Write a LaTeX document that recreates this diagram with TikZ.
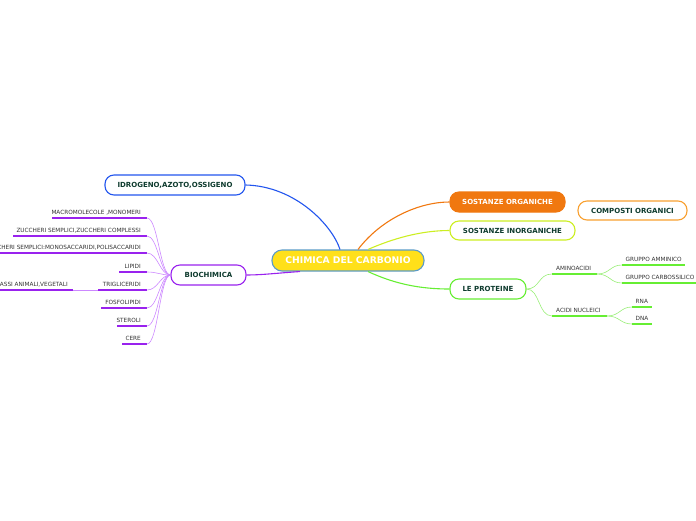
\documentclass[tikz,border=0pt]{standalone}
\usepackage{fontspec}
\setmainfont{DejaVu Sans}
\definecolor{tealdark}{HTML}{0E3B2E}
\definecolor{leafgray}{HTML}{333333}
\definecolor{cblue}{HTML}{2255EE}
\definecolor{corange}{HTML}{F07810}
\definecolor{corangel}{HTML}{F8A030}
\definecolor{cyg}{HTML}{CCEE22}
\definecolor{cgreen}{HTML}{66EE33}
\definecolor{cgreenl}{HTML}{99EE77}
\definecolor{cpurple}{HTML}{9922EE}
\definecolor{cpurplel}{HTML}{CC88FF}
\definecolor{cyellow}{HTML}{FFE01A}
\definecolor{cborder}{HTML}{5B9BC8}
\begin{document}
\begin{tikzpicture}[x=1pt,y=-1pt,
  topic/.style={rounded corners=9pt, draw, line width=1.1pt, minimum height=20pt, inner sep=0pt,
    font=\fontsize{7}{8}\selectfont\bfseries, text=tealdark, fill=white},
  leafR/.style={font=\fontsize{5.75}{6}\selectfont, text=leafgray, inner sep=0pt, anchor=base east},
  leafL/.style={font=\fontsize{5.75}{6}\selectfont, text=leafgray, inner sep=0pt, anchor=base west},
  uline/.style={line width=1.8pt},
  conn/.style={line width=1.1pt},
  thin/.style={line width=0.6pt}]
\useasboundingbox (0,0) rectangle (696,520);
\clip (0,0) rectangle (696,520);

% main topics
\node[topic, draw=cborder, fill=cyellow, text=white, minimum width=152pt, minimum height=21pt,
  font=\fontsize{9.2}{10}\selectfont\bfseries, rounded corners=10pt] (c) at (348,260.5) {CHIMICA DEL CARBONIO};
\node[topic, draw=cblue, minimum width=140pt] (idro) at (175,185) {IDROGENO,AZOTO,OSSIGENO};
\node[topic, draw=corange, fill=corange, text=white, minimum width=115pt] (sorg) at (507.5,202) {SOSTANZE ORGANICHE};
\node[topic, draw=corangel, minimum width=109pt, minimum height=19pt] (comp) at (632.5,210.5) {COMPOSTI ORGANICI};
\node[topic, draw=cyg, minimum width=125pt, minimum height=19pt] (sinorg) at (512.5,230.5) {SOSTANZE INORGANICHE};
\node[topic, draw=cgreen, minimum width=76pt] (prot) at (488,289) {LE PROTEINE};
\node[topic, draw=cpurple, minimum width=75pt] (bio) at (208.5,275) {BIOCHIMICA};

% main connectors
\draw[conn, cblue] ([xshift=-8pt]c.north) .. controls (332,225) and (295,186) .. (idro.east);
\draw[conn, corange] ([xshift=10pt]c.north) .. controls (382,218) and (420,202) .. (sorg.west);
\draw[conn, cyg] ([xshift=20pt]c.north) .. controls (392,239) and (420,230.5) .. (sinorg.west);
\draw[conn, cgreen] ([xshift=20pt]c.south) .. controls (395,284) and (420,289) .. (prot.west);
\draw[conn, cpurple] ([xshift=-48pt]c.south) .. controls (278,273) and (262,275) .. (bio.east);

% biochimica leaves
\foreach \n/\l/\y/\t in {
  macro/52/218/{MACROMOLECOLE ,MONOMERI},
  zuc/13/236/{ZUCCHERI SEMPLICI,ZUCCHERI COMPLESSI},
  zuc2/-10/253/{ZUCCHERI SEMPLICI:MONOSACCARIDI,POLISACCARIDI},
  lip/119/272/{LIPIDI},
  tri/98/290/{TRIGLICERIDI},
  fos/101/308/{FOSFOLIPIDI},
  ste/117/326/{STEROLI},
  cer/122/344/{CERE}}{
  \coordinate (\n R) at (147,\y);
  \coordinate (\n L) at (\l,\y);
  \draw[uline, cpurple] (\n L) -- (\n R);
  \node[leafR] (\n T) at (141,\y-4) {\t};
  \draw[thin, cpurplel] (bio.west) .. controls (160,275) and (158,\y) .. (\n R);
}
\coordinate (grR) at (73,290);
\coordinate (grL) at (-10,290);
\draw[uline, cpurple] (grL) -- (grR);
\node[leafR] (grT) at (68,286) {GRASSI ANIMALI,VEGETALI};
\draw[thin, cpurplel] (grR) -- (triL);

% proteine leaves
\coordinate (amL) at (552,274); \coordinate (amR) at (597,274);
\coordinate (acL) at (552,316); \coordinate (acR) at (607,316);
\draw[uline, cgreen] (amL) -- (amR);
\draw[uline, cgreen] (acL) -- (acR);
\node[leafL] (amT) at (556,270) {AMINOACIDI};
\node[leafL] (acT) at (556,312) {ACIDI NUCLEICI};
\draw[thin, cgreenl] (prot.east) .. controls (540,289) and (538,274) .. (amL);
\draw[thin, cgreenl] (prot.east) .. controls (540,289) and (538,316) .. (acL);

\coordinate (gaL) at (622,265); \coordinate (gaR) at (685,265);
\coordinate (gcL) at (622,283); \coordinate (gcR) at (697,283);
\coordinate (rnL) at (632,307); \coordinate (rnR) at (652,307);
\coordinate (dnL) at (632,324); \coordinate (dnR) at (652,324);
\foreach \n in {ga,gc,rn,dn}{\draw[uline, cgreen] (\n L) -- (\n R);}
\node[leafL] (gaT) at (625.5,261) {GRUPPO AMMINICO};
\node[leafL] (gcT) at (625.5,279) {GRUPPO CARBOSSILICO};
\node[leafL] (rnT) at (635.5,303) {RNA};
\node[leafL] (dnT) at (635.5,320) {DNA};
\draw[thin, cgreenl] (amR) .. controls (610,274) and (610,265) .. (gaL);
\draw[thin, cgreenl] (amR) .. controls (610,274) and (610,283) .. (gcL);
\draw[thin, cgreenl] (acR) .. controls (620,316) and (620,307) .. (rnL);
\draw[thin, cgreenl] (acR) .. controls (620,316) and (620,324) .. (dnL);
\end{tikzpicture}
\end{document}
